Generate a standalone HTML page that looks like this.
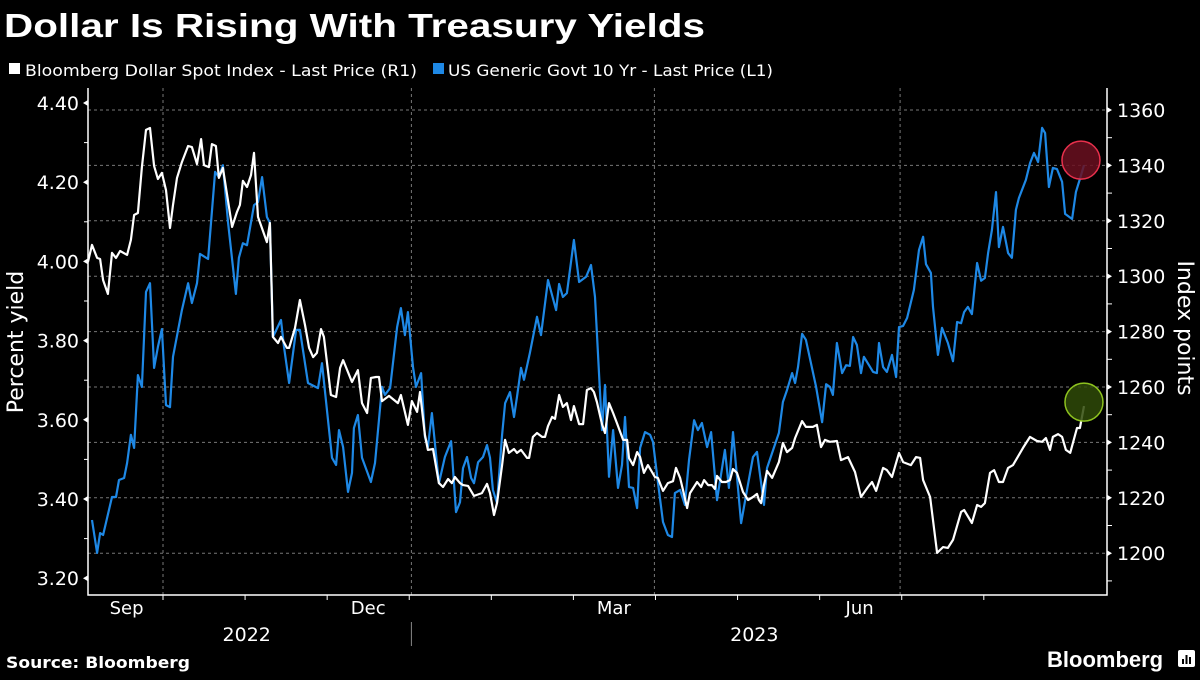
<!DOCTYPE html>
<html><head><meta charset="utf-8">
<style>
html,body{margin:0;padding:0;background:#000;}
body{width:1200px;height:675px;overflow:hidden;font-family:"Liberation Sans","DejaVu Sans",sans-serif;}
svg text{font-family:"DejaVu Sans","Liberation Sans",sans-serif;}
</style></head>
<body>
<svg id="chart" width="1200" height="675" viewBox="0 0 1200 675" xmlns="http://www.w3.org/2000/svg">
<rect width="1200" height="675" fill="#000"/>
<text x="4" y="37" fill="#fff" font-size="33" font-weight="bold" textLength="701" lengthAdjust="spacingAndGlyphs" style="font-family:'Liberation Sans',sans-serif">Dollar Is Rising With Treasury Yields</text>
<g>
<rect x="9" y="63" width="11" height="11" fill="#fff"/>
<text x="25" y="76" fill="#fff" font-size="16" textLength="392" lengthAdjust="spacingAndGlyphs">Bloomberg Dollar Spot Index - Last Price (R1)</text>
<rect x="433" y="63" width="11" height="11" fill="#1e88e5"/>
<text x="448" y="76" fill="#fff" font-size="16" textLength="325" lengthAdjust="spacingAndGlyphs">US Generic Govt 10 Yr - Last Price (L1)</text>
</g>
<g id="grid"></g><g id="axes"></g><g id="series"></g>
<text transform="translate(23,342) rotate(-90)" text-anchor="middle" fill="#fff" font-size="22">Percent yield</text>
<text transform="translate(1178,328) rotate(90)" text-anchor="middle" fill="#fff" font-size="22">Index points</text>
<text x="6" y="668" fill="#fff" font-size="16" font-weight="bold" textLength="184" lengthAdjust="spacingAndGlyphs">Source: Bloomberg</text>
<text x="1047" y="667" fill="#fff" font-size="22" font-weight="bold" style="font-family:'Liberation Sans',sans-serif">Bloomberg</text>
<g><rect x="1178" y="650" width="17" height="17" rx="2" fill="#fff"/><rect x="1182" y="659" width="2" height="5" fill="#000"/><rect x="1185.5" y="655" width="2" height="9" fill="#000"/><rect x="1189" y="657" width="2" height="7" fill="#000"/></g>
</svg>
<script>
const yieldDays=[-26.3,-24.4,-23.3,-22.2,-18.9,-17.4,-16.3,-14.4,-13.3,-11.9,-10.7,-9.3,-7.8,-6.3,-4.8,-3.3,-1.9,-0.4,1.1,2.6,3.7,7.0,9.3,10.7,12.6,13.7,16.7,19.3,20.7,22.2,24.1,27.0,28.1,29.6,31.1,33.7,35.2,36.7,38.5,39.6,40.7,43.7,44.8,46.7,49.3,50.7,53.7,57.4,58.9,62.6,64.1,65.2,66.7,68.5,70.0,70.7,72.2,73.7,77.0,78.5,81.1,82.2,84.1,86.7,88.1,89.6,90.7,92.6,93.7,95.6,97.0,98.1,99.6,102.2,104.4,106.7,108.5,110.0,111.1,112.6,114.1,115.2,116.7,118.5,120.0,121.1,122.2,123.7,125.6,126.7,128.5,130.0,131.1,132.6,133.7,135.9,138.5,140.0,142.6,145.6,146.7,148.1,149.6,152.2,154.1,156.7,158.5,160.0,162.6,163.7,165.2,166.7,168.5,170.0,171.1,172.6,174.1,175.6,176.7,178.5,180.4,181.5,183.3,185.2,187.0,188.5,189.6,191.5,193.3,194.8,196.7,198.1,199.6,201.5,203.0,205.2,208.1,209.6,211.1,214.1,216.3,218.5,220.0,222.6,223.7,228.1,229.6,231.1,233.0,234.1,235.2,236.7,238.1,241.9,244.1,245.6,247.0,248.1,249.6,251.5,253.0,254.4,255.6,257.0,258.5,259.6,263.0,264.4,265.2,266.7,268.1,270.0,271.5,272.6,274.1,275.6,278.1,280.0,281.5,282.6,284.4,285.2,287.0,288.5,290.7,292.6,294.1,295.6,296.7,298.1,299.6,301.5,303.0,304.4,305.6,307.0,308.5,309.6,311.1,313.0,314.4,315.9,317.0,319.6,321.1,322.6,324.1,325.6,326.7,328.1,329.6,331.1,333.0,334.1,336.7,338.1,339.6,341.1];
const yieldValues=[3.347,3.264,3.314,3.309,3.405,3.405,3.448,3.453,3.491,3.562,3.529,3.713,3.683,3.923,3.945,3.731,3.784,3.829,3.637,3.632,3.759,3.877,3.945,3.895,3.945,4.019,4.006,4.226,4.213,4.243,4.097,3.918,4.009,4.046,4.041,4.142,4.150,4.213,4.112,4.097,3.809,3.852,3.784,3.693,3.827,3.827,3.693,3.680,3.743,3.504,3.486,3.574,3.531,3.418,3.466,3.579,3.612,3.504,3.443,3.491,3.683,3.663,3.680,3.834,3.882,3.814,3.872,3.733,3.683,3.718,3.557,3.531,3.617,3.440,3.506,3.546,3.367,3.392,3.478,3.506,3.453,3.440,3.493,3.506,3.536,3.504,3.423,3.390,3.562,3.642,3.670,3.607,3.658,3.731,3.701,3.769,3.860,3.814,3.953,3.877,3.943,3.910,3.920,4.054,3.948,3.961,3.991,3.910,3.574,3.688,3.456,3.574,3.428,3.486,3.607,3.430,3.428,3.377,3.529,3.569,3.562,3.544,3.443,3.342,3.309,3.304,3.415,3.423,3.385,3.498,3.599,3.574,3.592,3.531,3.569,3.397,3.524,3.428,3.569,3.339,3.423,3.506,3.519,3.385,3.478,3.567,3.645,3.675,3.718,3.693,3.733,3.817,3.802,3.683,3.594,3.690,3.683,3.663,3.794,3.718,3.738,3.736,3.809,3.789,3.718,3.759,3.721,3.718,3.794,3.733,3.721,3.764,3.708,3.834,3.837,3.857,3.928,4.029,4.062,3.993,3.971,3.885,3.764,3.832,3.794,3.748,3.847,3.844,3.872,3.885,3.867,3.996,3.951,3.958,4.021,4.079,4.175,4.036,4.087,4.021,4.009,4.130,4.160,4.206,4.248,4.274,4.251,4.337,4.324,4.188,4.236,4.233,4.201,4.120,4.107,4.175,4.208,4.243];
const dollarDays=[-27.8,-26.3,-24.4,-23.3,-22.2,-20.4,-18.9,-17.4,-15.9,-13.3,-11.9,-10.7,-9.3,-7.8,-6.3,-4.8,-3.3,-1.9,-0.4,1.1,2.6,3.7,5.2,7.0,9.3,10.7,12.6,14.1,15.2,17.0,18.1,19.6,20.7,22.2,25.6,27.4,28.5,29.6,31.1,32.6,33.7,35.2,38.5,39.6,40.7,42.6,43.7,45.9,46.7,48.9,50.7,52.6,54.1,55.6,57.0,58.5,59.6,62.2,64.1,65.6,66.7,70.0,72.2,73.7,75.6,77.0,78.9,80.0,81.1,83.7,87.0,88.1,90.7,92.2,94.1,95.2,97.0,98.1,100.0,102.2,103.7,105.6,107.0,108.1,110.0,111.1,113.0,115.2,118.1,120.0,121.1,122.6,123.7,125.6,126.7,128.1,130.0,131.1,132.6,134.8,135.6,137.0,138.5,140.4,141.5,142.6,144.1,145.2,146.7,148.1,149.6,151.1,152.2,154.1,155.6,157.0,158.5,159.6,160.7,162.6,163.7,165.2,166.7,168.1,170.4,171.9,172.6,174.1,175.6,176.7,178.1,179.6,181.1,182.2,183.3,185.2,187.0,188.9,190.0,191.5,192.6,194.1,195.2,197.8,199.3,200.4,201.9,203.3,204.4,205.2,207.0,208.5,210.0,211.1,212.6,214.8,216.7,218.5,220.0,220.7,221.5,222.6,223.7,225.6,228.1,229.6,231.1,233.0,234.1,236.7,238.1,240.7,242.2,243.7,245.2,247.0,249.6,251.1,253.7,256.3,258.5,261.1,262.6,264.1,266.7,268.1,270.0,272.6,274.1,277.0,278.9,280.4,281.5,284.1,286.7,288.9,290.7,292.6,295.6,296.7,299.6,301.5,303.0,304.4,306.3,307.8,309.6,311.1,313.0,314.8,318.5,321.1,323.7,325.6,327.0,328.5,329.6,331.5,333.0,334.4,336.0,338.5,339.6,341.1];
const dollarValues=[1305.1,1311.3,1306.6,1306.2,1298.6,1293.6,1308.4,1306.6,1309.1,1307.7,1313.1,1322.1,1322.8,1339.4,1352.8,1353.5,1339.8,1335.1,1337.3,1331.1,1317.4,1325.7,1335.5,1341.2,1347.0,1346.6,1340.5,1349.5,1340.1,1339.4,1347.7,1347.0,1335.5,1339.1,1317.8,1323.2,1325.7,1334.4,1332.2,1336.5,1344.5,1321.4,1312.3,1319.2,1278.1,1275.9,1278.1,1274.1,1274.1,1281.3,1291.4,1282.4,1274.1,1270.8,1272.3,1280.9,1278.1,1257.1,1256.4,1266.9,1269.7,1261.8,1266.1,1254.2,1250.6,1263.3,1263.6,1263.6,1254.9,1256.8,1254.2,1257.1,1246.3,1254.9,1251.0,1258.2,1242.7,1237.3,1237.6,1225.3,1223.9,1226.8,1225.3,1227.5,1225.3,1224.6,1224.3,1220.7,1221.7,1225.0,1221.7,1213.8,1218.1,1231.8,1240.9,1236.2,1237.6,1236.2,1237.3,1234.4,1234.4,1242.0,1243.4,1242.0,1242.0,1245.9,1249.2,1248.5,1257.1,1252.8,1254.2,1248.1,1253.1,1246.6,1246.6,1258.9,1259.6,1258.2,1254.6,1246.6,1243.4,1254.2,1250.6,1247.0,1240.9,1240.9,1234.4,1231.8,1236.5,1234.7,1229.0,1231.8,1229.3,1227.5,1227.2,1222.5,1225.3,1226.0,1230.8,1227.2,1222.8,1216.3,1221.7,1225.7,1223.9,1226.4,1224.6,1224.6,1223.2,1227.9,1225.7,1225.7,1226.4,1230.4,1229.0,1222.1,1219.2,1220.3,1221.4,1219.2,1218.1,1224.6,1229.7,1227.2,1232.9,1239.8,1236.5,1238.0,1241.6,1247.7,1245.6,1245.6,1246.3,1238.3,1240.9,1240.2,1240.5,1233.6,1234.7,1229.3,1220.3,1223.9,1225.7,1222.5,1230.8,1230.0,1227.5,1236.2,1232.9,1231.8,1234.7,1234.4,1226.4,1220.3,1200.1,1202.2,1201.9,1204.8,1214.9,1215.6,1210.9,1217.4,1216.7,1218.1,1229.0,1230.0,1225.7,1225.7,1230.8,1231.8,1238.0,1242.0,1240.5,1240.2,1241.6,1237.3,1242.0,1243.0,1242.0,1237.3,1236.2,1245.2,1245.2,1253.1];
const leftTicks=["4.40","4.20","4.00","3.80","3.60","3.40","3.20"];
const rightTicks=["1360","1340","1320","1300","1280","1260","1240","1220","1200"];
const monthLabels=["Sep","Dec","Mar","Jun"];
const monthLabelDays=[-13.5,76,167,258];
const quarterDays=[0,92,182,273];
const yearLabels=["2022","2023"];
const yearLabelDays=[31,219];

const NS="http://www.w3.org/2000/svg";
const X0=88,X1=1107,YT=88,YB=595;
const xs=d=>163+d*2.7;
const yL=v=>499-(v-3.4)*396;
const yR=v=>110+(1360-v)*2.77;
function mk(tag,attrs,parent){const e=document.createElementNS(NS,tag);for(const k in attrs)e.setAttribute(k,attrs[k]);parent.appendChild(e);return e;}
const grid=document.getElementById('grid'),axes=document.getElementById('axes'),series=document.getElementById('series');

rightTicks.forEach(t=>{const y=yR(+t);
 const g=mk('line',{x1:X0,x2:X1,y1:y,y2:y,stroke:'#777','stroke-width':1,'stroke-dasharray':'3,3'},grid);
 
 
 const tk=mk('path',{d:`M${X1} ${y-3}L${X1+5} ${y}L${X1} ${y+3}Z`,fill:'#fff'},axes);
 
 
 const lb=mk('text',{x:X1+10,y:y+7,fill:'#fff','font-size':19},axes);lb.textContent=t;
 
 
 const mt=mk('line',{x1:X1,x2:X1+5,y1:y+27.7,y2:y+27.7,stroke:'#fff'},axes);
 
 
});
quarterDays.forEach(d=>{const x=xs(d);
 const g=mk('line',{x1:x,x2:x,y1:YT,y2:YB,stroke:'#777','stroke-width':1,'stroke-dasharray':'3,3'},grid);
 
 
});
leftTicks.forEach(t=>{const y=yL(+t);
 const tk=mk('path',{d:`M${X0} ${y-3}L${X0-5} ${y}L${X0} ${y+3}Z`,fill:'#fff'},axes);
 
 
 const lb=mk('text',{x:X0-9,y:y+7,fill:'#fff','font-size':19,'text-anchor':'end'},axes);lb.textContent=t;
 
 
 if(+t>3.25){const mt=mk('line',{x1:X0-4,x2:X0,y1:y+39.6,y2:y+39.6,stroke:'#fff'},axes);
 
 }
});
const axl=mk('path',{d:`M${X0} ${YT}V${YB}H${X1}V${YT}`,stroke:'#fff','stroke-width':1.5,fill:'none'},axes);


for(let d=0;d<=334;d+=30.4){const x=xs(d);
 const t=mk('line',{x1:x,x2:x,y1:YB,y2:YB+5,stroke:'#fff'},axes);
 
 }
monthLabels.forEach((m,i)=>{const lb=mk('text',{x:xs(monthLabelDays[i]),y:614,fill:'#fff','font-size':18,'text-anchor':'middle'},axes);lb.textContent=m;
 
 });
yearLabels.forEach((m,i)=>{const lb=mk('text',{x:xs(yearLabelDays[i]),y:641,fill:'#fff','font-size':19,'text-anchor':'middle'},axes);lb.textContent=m;
 
 });
const sep=mk('line',{x1:xs(92),x2:xs(92),y1:622,y2:646,stroke:'#888'},axes);



function line(days,vals,fy,color,name){
 const d=days.map((dd,i)=>(i?'L':'M')+xs(dd).toFixed(1)+' '+fy(vals[i]).toFixed(1)).join('');
 const p=mk('path',{d:d,stroke:color,'stroke-width':2.2,fill:'none','stroke-linejoin':'round'},series);
 
 
}
line(yieldDays,yieldValues,yL,'#1e88e5','yield-line');
line(dollarDays,dollarValues,yR,'#ffffff','dollar-line');
const ly=yieldDays.length-1,ld=dollarDays.length-1;
const c1=mk('circle',{cx:xs(yieldDays[ly])-3,cy:yL(yieldValues[ly])-5,r:19,fill:'#6a0f20','fill-opacity':0.85,stroke:'#e8304c','stroke-width':1.5},series);


const c2=mk('circle',{cx:xs(dollarDays[ld]),cy:yR(dollarValues[ld])-4,r:19,fill:'#2f4a08','fill-opacity':0.85,stroke:'#8dc21f','stroke-width':1.5},series);


</script>
</body></html>
